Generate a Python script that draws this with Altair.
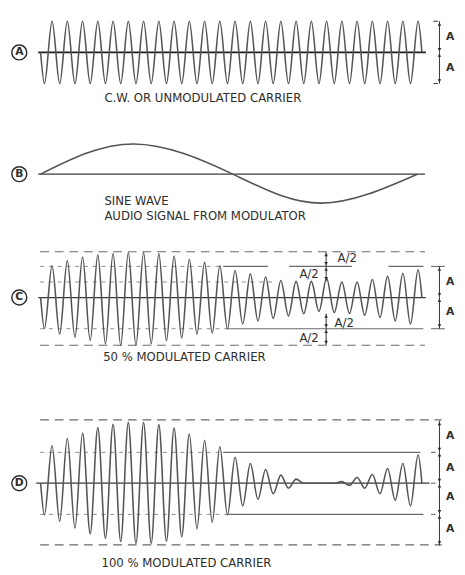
import altair as alt
import pandas as pd

# ---------------- data ----------------
# carrier timing, in carrier cycles: troughs and peaks of every cycle
TROUGH_T = [0.25, 1.25, 2.25, 3.25, 4.25, 5.25, 6.25, 7.25, 8.25, 9.25, 10.25, 11.25, 12.25,
            13.25, 14.25, 15.25, 16.25, 17.25, 18.25, 19.25, 20.25, 21.25, 22.25, 23.25, 24.25]
PEAK_T = [0.75, 1.75, 2.75, 3.75, 4.75, 5.75, 6.75, 7.75, 8.75, 9.75, 10.75, 11.75, 12.75,
          13.75, 14.75, 15.75, 16.75, 17.75, 18.75, 19.75, 20.75, 21.75, 22.75, 23.75, 24.75]
WAVE_START_T = 0.0
WAVE_END_T = 25.0

# (A) unmodulated carrier, amplitude in units of A
A_PEAKS = [1.0, 1.0, 1.0, 1.0, 1.0, 1.0, 1.0, 1.0, 1.0, 1.0, 1.0, 1.0, 1.0,
           1.0, 1.0, 1.0, 1.0, 1.0, 1.0, 1.0, 1.0, 1.0, 1.0, 1.0, 1.0]
A_TROUGHS = [-1.0, -1.0, -1.0, -1.0, -1.0, -1.0, -1.0, -1.0, -1.0, -1.0, -1.0, -1.0, -1.0,
             -1.0, -1.0, -1.0, -1.0, -1.0, -1.0, -1.0, -1.0, -1.0, -1.0, -1.0, -1.0]

# (B) audio sine wave
B_T = [0.0, 6.1, 12.6, 18.4, 24.7]
B_V = [0.0, 0.97, 0.0, -0.93, 0.0]

# (C) 50 % modulated carrier
C_PEAKS = [1.02, 1.18, 1.30, 1.37, 1.41, 1.44, 1.44, 1.41, 1.33, 1.23, 1.13, 1.02, 0.87,
           0.76, 0.66, 0.55, 0.52, 0.52, 0.62, 0.50, 0.50, 0.58, 0.68, 0.78, 0.89]
C_TROUGHS = [-0.99, -1.17, -1.27, -1.38, -1.48, -1.53, -1.53, -1.48, -1.38, -1.30, -1.17, -1.14, -1.01,
             -0.85, -0.75, -0.67, -0.59, -0.52, -0.44, -0.48, -0.51, -0.57, -0.64, -0.75, -0.85]

# (D) 100 % modulated carrier
D_PEAKS = [1.20, 1.44, 1.61, 1.79, 1.89, 1.95, 1.95, 1.88, 1.77, 1.58, 1.38, 1.17, 0.83,
           0.63, 0.44, 0.26, 0.13, 0.0, 0.0, 0.05, 0.18, 0.28, 0.47, 0.63, 0.91]
D_TROUGHS = [-1.02, -1.23, -1.44, -1.62, -1.77, -1.87, -1.93, -1.93, -1.86, -1.72, -1.46, -1.25, -1.02,
             -0.73, -0.52, -0.34, -0.16, 0.0, 0.0, 0.0, -0.07, -0.16, -0.34, -0.55, -0.73]

CAPTION_A = "C.W. OR UNMODULATED CARRIER"
CAPTION_B = ["SINE WAVE", "AUDIO SIGNAL FROM MODULATOR"]
CAPTION_C = "50 % MODULATED CARRIER"
CAPTION_D = "100 % MODULATED CARRIER"
PANEL_LETTERS = ["A", "B", "C", "D"]

# ---------------- styling / layout ----------------
W = 457
XDOM = [-1.884, 27.30]
INK = "#2e2e2e"
WAVE = "#555555"
GUIDE = "#6a6a6a"
FONT = "DejaVu Sans"
CAP_SIZE = 12

XS = alt.Scale(domain=XDOM, nice=False, zero=False)


def X(f):
    return alt.X(f, type="quantitative", scale=XS, axis=None)


def Y(f, dom):
    return alt.Y(f, type="quantitative", scale=alt.Scale(domain=dom, nice=False, zero=False), axis=None)


def carrier_df(troughs, peaks):
    rows = [{"t": WAVE_START_T, "v": 0.0}]
    for tt, tv, pt, pv in zip(TROUGH_T, troughs, PEAK_T, peaks):
        rows.append({"t": tt, "v": tv})
        rows.append({"t": pt, "v": pv})
    rows.append({"t": WAVE_END_T, "v": 0.0})
    return pd.DataFrame(rows)


def wave(df, dom, interp="monotone", width=1.6):
    return alt.Chart(df).mark_line(interpolate=interp, color=WAVE, strokeWidth=width).encode(
        x=X("t"), y=Y("v", dom))


def hrules(segs, dom, color=GUIDE, width=1.1, dash=None):
    df = pd.DataFrame(segs, columns=["t", "t2", "v"])
    kw = dict(color=color, strokeWidth=width)
    if dash is not None:
        kw["strokeDash"] = dash
    return alt.Chart(df).mark_rule(**kw).encode(x=X("t"), x2="t2", y=Y("v", dom))


def dims(t, bounds, dom, eps):
    # dimension line with arrowheads at each level
    segs = [(t, lo, hi) for lo, hi in zip(bounds[:-1], bounds[1:])]
    df = pd.DataFrame(segs, columns=["t", "lo", "hi"])
    line = alt.Chart(df).mark_rule(color=INK, strokeWidth=1.0).encode(x=X("t"), y=Y("lo", dom), y2="hi")
    heads = []
    for _, lo, hi in segs:
        heads.append({"t": t, "v": hi - eps, "shape": "triangle-up"})
        heads.append({"t": t, "v": lo + eps, "shape": "triangle-down"})
    hd = alt.Chart(pd.DataFrame(heads)).mark_point(filled=True, size=14, color=INK, opacity=1).encode(
        x=X("t"), y=Y("v", dom), shape=alt.Shape("shape:N", scale=None))
    return [line, hd]


def texts(rows, dom, size=12, align="left", baseline="alphabetic", weight="normal"):
    df = pd.DataFrame(rows, columns=["t", "v", "label"])
    return alt.Chart(df).mark_text(font=FONT, fontSize=size, align=align, baseline=baseline,
                                   fontWeight=weight, color=INK).encode(
        x=X("t"), y=Y("v", dom), text="label:N")


def badge(letter, dom):
    df = pd.DataFrame([{"t": -1.4, "v": 0.0, "label": letter}])
    ring = alt.Chart(df).mark_point(shape="circle", size=235, filled=False, strokeWidth=1.5,
                                    color=INK, opacity=1).encode(x=X("t"), y=Y("v", dom))
    txt = alt.Chart(df).mark_text(font=FONT, fontSize=11, fontWeight="bold", align="center",
                                  baseline="middle", color=INK).encode(
        x=X("t"), y=Y("v", dom), text="label:N")
    return [ring, txt]


# ---------------- panel A ----------------
domA = [-2.0, 1.1875]
layersA = [
    hrules([(-0.16, 25.26, 0.0)], domA, color="#1e1e1e", width=1.8),
    wave(carrier_df(A_TROUGHS, A_PEAKS), domA),
    hrules([(25.75, 26.05, 1.0), (25.75, 26.05, -1.0)], domA, color=INK, width=1.0),
    *dims(26.15, [-1.0, 0.0, 1.0], domA, 0.09),
    texts([(26.85, 0.5, "A"), (26.85, -0.5, "A")], domA, size=11, align="center",
          baseline="middle", weight="bold"),
    texts([(4.18, -1.58, CAPTION_A)], domA, size=CAP_SIZE),
    *badge(PANEL_LETTERS[0], domA),
]
pA = alt.layer(*layersA).properties(width=W, height=102)

# ---------------- panel B ----------------
domB = [-1.6875, 1.90625]
layersB = [
    hrules([(-0.16, 25.2, 0.0)], domB, color="#3a3a3a", width=1.3),
    wave(pd.DataFrame({"t": B_T, "v": B_V}), domB, interp="natural", width=1.6),
    texts([(4.18, -1.0, CAPTION_B[0]), (4.18, -1.46, CAPTION_B[1])], domB, size=CAP_SIZE),
    *badge(PANEL_LETTERS[1], domB),
]
pB = alt.layer(*layersB).properties(width=W, height=115)

# ---------------- panel C ----------------
domC = [-2.572, 2.272]
layersC = [
    hrules([(-0.03, 25.2, 1.47), (-0.03, 25.2, -1.53)], domC, width=1.2, dash=[9, 6]),
    hrules([(-0.03, 11.97, 1.0), (-0.03, 12.3, -1.0), (-0.03, 15.2, 0.5)], domC,
           color="#8a8a8a", width=1.0, dash=[4, 5]),
    hrules([(11.97, 14.9, 1.0), (16.3, 20.4, 1.0), (22.8, 25.1, 1.0), (12.3, 25.1, -1.0),
            (25.6, 26.5, 1.0), (25.6, 26.5, -1.0)], domC, width=1.1),
    hrules([(-0.16, 25.26, 0.0)], domC, color="#3a3a3a", width=1.3),
    wave(carrier_df(C_TROUGHS, C_PEAKS), domC),
    *dims(26.15, [-1.0, 0.0, 1.0], domC, 0.09),
    *dims(18.72, [0.52, 1.0, 1.47], domC, 0.09),
    *dims(18.72, [-1.53, -1.0, -0.51], domC, 0.09),
    texts([(26.85, 0.5, "A"), (26.85, -0.46, "A")], domC, size=11, align="center",
          baseline="middle", weight="bold"),
    texts([(20.1, 1.27, "A/2"), (17.6, 0.76, "A/2"), (19.9, -0.82, "A/2"), (17.6, -1.29, "A/2")],
          domC, size=12, align="center", baseline="middle"),
    texts([(4.1, -2.03, CAPTION_C)], domC, size=CAP_SIZE),
    *badge(PANEL_LETTERS[2], domC),
]
pC = alt.layer(*layersC).properties(width=W, height=155)

# ---------------- panel D ----------------
domD = [-2.709, 3.384]
layersD = [
    hrules([(-0.03, 26.3, 2.03), (-0.03, 26.3, -1.98)], domD, width=1.2, dash=[9, 6]),
    hrules([(-0.03, 11.97, 0.99), (-0.03, 12.3, -1.0)], domD, color="#8a8a8a", width=1.0, dash=[4, 5]),
    hrules([(11.97, 24.9, 0.99), (12.3, 25.1, -1.0),
            (25.6, 25.9, 0.99), (25.6, 25.9, -1.0), (25.6, 25.9, 0.0)], domD, width=1.1),
    hrules([(-0.29, 25.5, 0.0)], domD, color="#3a3a3a", width=1.3),
    wave(carrier_df(D_TROUGHS, D_PEAKS), domD),
    *dims(26.15, [-2.0, -1.0, 0.0, 1.0, 2.0], domD, 0.09),
    texts([(26.85, 1.51, "A"), (26.85, 0.49, "A"), (26.85, -0.46, "A"), (26.85, -1.48, "A")],
          domD, size=11, align="center", baseline="middle", weight="bold"),
    texts([(3.99, -2.68, CAPTION_D)], domD, size=CAP_SIZE),
    *badge(PANEL_LETTERS[3], domD),
]
pD = alt.layer(*layersD).properties(width=W, height=195)

chart = alt.vconcat(pA, pB, pC, pD, spacing=0, bounds="flush").properties(
    padding=0, background="white"
).configure_view(stroke=None)

chart.save("out.html", embed_options={"renderer": "svg", "actions": False})
